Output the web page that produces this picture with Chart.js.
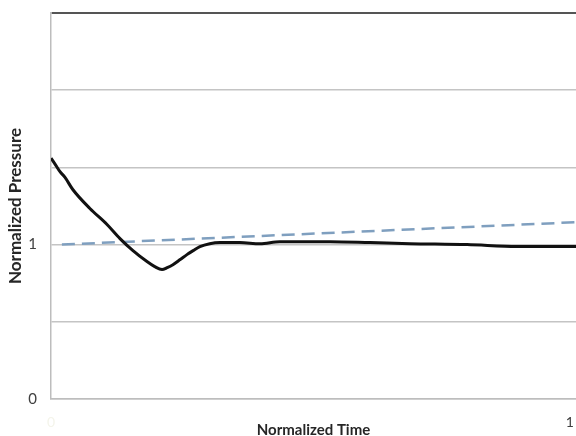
<!DOCTYPE html>
<html>
<head>
<meta charset="utf-8">
<script src="https://cdn.jsdelivr.net/npm/chart.js@4"></script>
<style>
  html, body { margin: 0; padding: 0; background: #fff; }
  #wrap { width: 576px; height: 436px; }
</style>
</head>
<body>
<div id="wrap"><canvas id="pressure_chart" width="576" height="436"></canvas></div>
<script>
'use strict'

// measured pressure (solid black), normalized
const measuredTime = [0, 0.010, 0.017, 0.027, 0.042, 0.075, 0.108, 0.133, 0.158, 0.185, 0.200, 0.214, 0.224, 0.235, 0.249, 0.262, 0.274, 0.287, 0.306, 0.326, 0.364, 0.403, 0.441, 0.538, 0.615, 0.692, 0.802, 0.898, 1.012];
const measuredPressure = [1.56, 1.51, 1.474, 1.435, 1.357, 1.234, 1.13, 1.039, 0.961, 0.890, 0.857, 0.838, 0.851, 0.870, 0.903, 0.935, 0.961, 0.987, 1.006, 1.013, 1.013, 1.006, 1.019, 1.019, 1.013, 1.006, 1.0, 0.987, 0.987];

// reference trend (dashed blue)
const trendTime = [0.021, 1.012];
const trendPressure = [1.0, 1.145];

const xTicks = [0, 1];
const yLabelled = [0, 1];

window.onload = () => {
    const ctx = document.getElementById('pressure_chart').getContext('2d');
    const toPoints = (xs, ys) => xs.map((x, i) => ({ x: x, y: ys[i] }));

    new Chart(ctx, {
        type: 'line',
        data: {
            datasets: [{
                label: 'measured',
                data: toPoints(measuredTime, measuredPressure),
                borderColor: '#111111',
                borderWidth: 3,
                pointRadius: 0,
                cubicInterpolationMode: 'monotone',
                order: 1
            }, {
                label: 'trend',
                data: toPoints(trendTime, trendPressure),
                borderColor: '#7f9fbf',
                borderWidth: 2.5,
                borderDash: [13, 7],
                pointRadius: 0,
                order: 2
            }]
        },
        options: {
            responsive: false,
            animation: false,
            layout: { padding: { top: 13, left: 0, right: 0, bottom: 0 } },
            plugins: { legend: { display: false }, tooltip: { enabled: false } },
            scales: {
                x: {
                    type: 'linear',
                    min: 0,
                    max: 1.012,
                    afterBuildTicks: (scale) => { scale.ticks = xTicks.map(v => ({ value: v })); },
                    afterFit: (scale) => {
                        scale.height = 37;
                        scale.paddingLeft = 0;
                        scale.paddingRight = 0;
                    },
                    grid: { display: false },
                    border: { display: true, color: '#bdbdbd', width: 1.5 },
                    ticks: {
                        padding: 7,
                        maxRotation: 0,
                        color: (c) => c.tick.value === 0 ? '#f4f4ea' : '#404040',
                        font: { family: 'Lato', size: 14 }
                    },
                    title: {
                        display: true,
                        text: 'Normalized Time',
                        color: '#262626',
                        font: { family: 'Lato', size: 15, weight: 'bold' },
                        padding: { top: 0, bottom: -3 }
                    }
                },
                y: {
                    min: 0,
                    max: 2.5,
                    afterFit: (scale) => {
                        scale.width = 51;
                        scale.paddingTop = 0;
                        scale.paddingBottom = 0;
                    },
                    ticks: {
                        stepSize: 0.5,
                        padding: 14,
                        color: '#404040',
                        font: { family: 'Lato', size: 15 },
                        callback: (v) => yLabelled.includes(v) ? String(v) : ''
                    },
                    grid: {
                        drawTicks: false,
                        color: (c) => c.tick.value === 2.5 ? '#555555' : '#c4c4c4',
                        lineWidth: (c) => c.tick.value === 2.5 ? 2 : 1.5
                    },
                    border: { display: true, color: '#bdbdbd', width: 1.5 },
                    title: {
                        display: true,
                        text: 'Normalized Pressure',
                        color: '#262626',
                        font: { family: 'Lato', size: 17, weight: 'bold' },
                        padding: { top: 5, bottom: 0 }
                    }
                }
            }
        }
    });
}
</script>
</body>
</html>
